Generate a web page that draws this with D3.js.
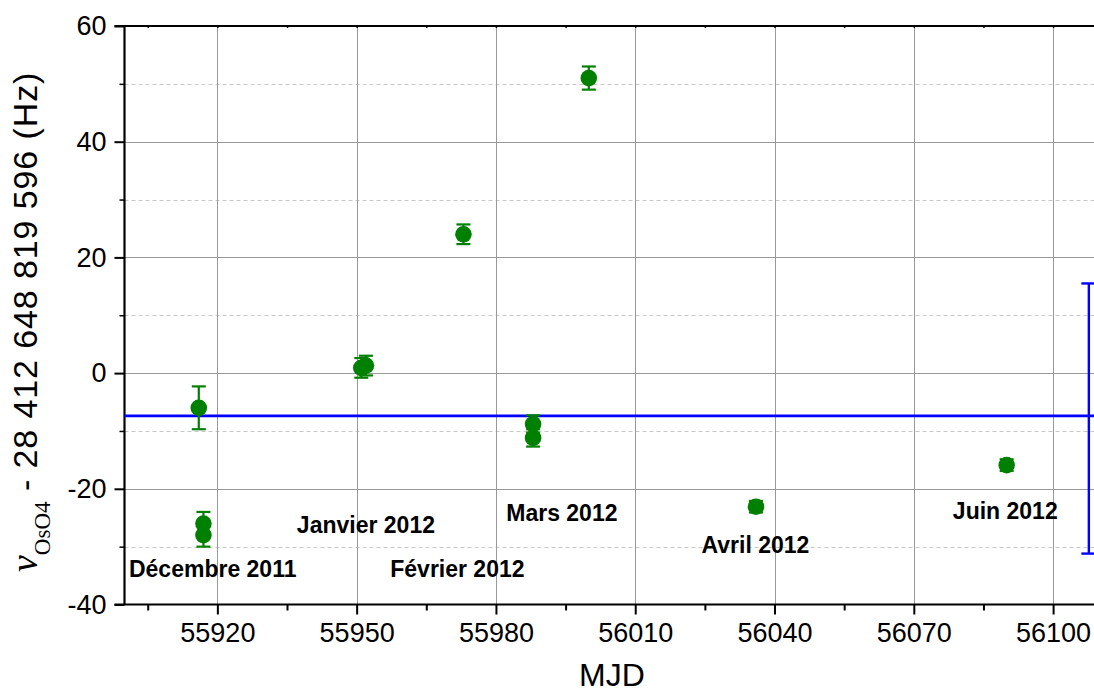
<!DOCTYPE html>
<html>
<head>
<meta charset="utf-8">
<script src="https://cdn.jsdelivr.net/npm/d3@7"></script>
<style>
  html, body { margin: 0; padding: 0; background: #fff; }
  svg { display: block; }
</style>
</head>
<body>
<svg id="chart" width="1094" height="693"></svg>
<script>
// Measurement dates (MJD), frequency offsets (Hz) and 1-sigma uncertainties (Hz)
const mjd    = [55916, 55917, 55917, 55951, 55952, 55973, 55988, 55988, 56000, 56036, 56090];
const offset = [-6.0, -26.0, -28.0, 0.9, 1.3, 24.0, -8.8, -11.2, 51.0, -23.1, -15.9];
const sigma  = [3.7, 2.0, 2.0, 1.7, 1.7, 1.7, 1.5, 1.5, 2.0, 1.0, 1.0];

// Weighted mean and its overall spread
const meanValue = -7.4;
const spreadMJD = 56107.7;
const spreadLow = -31.2;
const spreadHigh = 15.5;

// Month annotations, anchored in data coordinates (centre MJD, baseline Hz)
const monthNames = ["Décembre 2011", "Janvier 2012", "Février 2012", "Mars 2012", "Avril 2012", "Juin 2012"];
const monthMJD   = [55919.0, 55952.0, 55971.7, 55994.2, 56035.9, 56089.7];
const monthHz    = [-35.2, -27.6, -35.2, -25.5, -31.1, -25.3];

// Axis ticks
const xMajorTicks = [55920, 55950, 55980, 56010, 56040, 56070, 56100];
const xMinorTicks = [55905, 55935, 55965, 55995, 56025, 56055, 56085, 56115];
const yMajorTicks = [60, 40, 20, 0, -20, -40];
const yMinorTicks = [50, 30, 10, -10, -30];

(function draw() {
  const svg = d3.select("#chart");
  const left = 124.5, plotTop = 26, plotBottom = 604.5;

  const x = d3.scaleLinear().domain([55900, 56110]).range([left, left + 210 * 4.643]);
  const y = d3.scaleLinear().domain([-40, 60]).range([plotBottom, plotTop]);

  const green = "rgb(0,128,0)";
  const blue = "rgb(0,0,255)";
  const sans = "Liberation Sans, Arial, sans-serif";
  const serif = "Liberation Serif, Times New Roman, serif";

  // Grid: dashed minor horizontals, solid major lines
  const grid = svg.append("g");
  grid.selectAll(".hminor").data(yMinorTicks).join("line")
    .attr("x1", left).attr("x2", 1100)
    .attr("y1", d => Math.round(y(d)) + 0.5).attr("y2", d => Math.round(y(d)) + 0.5)
    .attr("stroke", "#c8c8c8").attr("stroke-width", 1).attr("stroke-dasharray", "4,3");
  grid.selectAll(".hmajor").data(yMajorTicks.filter(d => d > -40 && d < 60)).join("line")
    .attr("x1", left).attr("x2", 1100)
    .attr("y1", d => Math.round(y(d)) + 0.5).attr("y2", d => Math.round(y(d)) + 0.5)
    .attr("stroke", "#999").attr("stroke-width", 1);
  grid.selectAll(".vmajor").data(xMajorTicks).join("line")
    .attr("x1", d => Math.round(x(d)) + 0.5).attr("x2", d => Math.round(x(d)) + 0.5)
    .attr("y1", plotTop).attr("y2", plotBottom)
    .attr("stroke", "#999").attr("stroke-width", 1);

  // Axes
  const xAxis = d3.axisBottom(x).tickValues(xMajorTicks).tickSize(10).tickPadding(8).tickFormat(d => String(d));
  const gx = svg.append("g").attr("transform", `translate(0,${plotBottom})`).call(xAxis);
  gx.select(".domain").remove();
  gx.selectAll(".tick line").attr("stroke", "#000").attr("stroke-width", 2);
  gx.selectAll(".tick text").attr("font-family", sans).attr("font-size", 27).attr("fill", "#000");

  const xMinor = d3.axisBottom(x).tickValues(xMinorTicks).tickSize(6).tickFormat("");
  const gxm = svg.append("g").attr("transform", `translate(0,${plotBottom})`).call(xMinor);
  gxm.select(".domain").remove();
  gxm.selectAll(".tick line").attr("stroke", "#000").attr("stroke-width", 2);

  const yAxis = d3.axisLeft(y).tickValues(yMajorTicks).tickSize(10).tickPadding(8).tickFormat(d => String(d));
  const gy = svg.append("g").attr("transform", `translate(${left},0)`).call(yAxis);
  gy.select(".domain").remove();
  gy.selectAll(".tick line").attr("stroke", "#000").attr("stroke-width", 2);
  gy.selectAll(".tick text").attr("font-family", sans).attr("font-size", 27).attr("fill", "#000");

  const yMinor = d3.axisLeft(y).tickValues(yMinorTicks).tickSize(5).tickFormat("");
  const gym = svg.append("g").attr("transform", `translate(${left},0)`).call(yMinor);
  gym.select(".domain").remove();
  gym.selectAll(".tick line").attr("stroke", "#000").attr("stroke-width", 1.5);

  // Small inward ticks along the top frame
  const xTop = d3.axisBottom(x).tickValues(xMajorTicks.concat(xMinorTicks)).tickSize(2).tickFormat("");
  const gxt = svg.append("g").attr("transform", `translate(0,${plotTop})`).call(xTop);
  gxt.select(".domain").remove();
  gxt.selectAll(".tick line").attr("stroke", "#000").attr("stroke-width", 1.5);

  // Frame lines
  svg.append("line").attr("x1", left - 10).attr("x2", 1100).attr("y1", plotBottom).attr("y2", plotBottom)
    .attr("stroke", "#000").attr("stroke-width", 2.2);
  svg.append("line").attr("x1", left - 10).attr("x2", 1100).attr("y1", plotTop).attr("y2", plotTop)
    .attr("stroke", "#000").attr("stroke-width", 2.2);
  svg.append("line").attr("x1", left).attr("x2", left).attr("y1", plotTop).attr("y2", plotBottom)
    .attr("stroke", "#000").attr("stroke-width", 2.2);

  // Mean line and its spread bar
  svg.append("line").attr("x1", left).attr("x2", 1100)
    .attr("y1", y(meanValue)).attr("y2", y(meanValue))
    .attr("stroke", blue).attr("stroke-width", 2.6);
  const sb = svg.append("g").attr("stroke", blue).attr("stroke-width", 2.4);
  sb.append("line").attr("x1", x(spreadMJD)).attr("x2", x(spreadMJD))
    .attr("y1", y(spreadHigh)).attr("y2", y(spreadLow));
  sb.append("line").attr("x1", x(spreadMJD) - 7.5).attr("x2", x(spreadMJD) + 7.5)
    .attr("y1", y(spreadHigh)).attr("y2", y(spreadHigh));
  sb.append("line").attr("x1", x(spreadMJD) - 7.5).attr("x2", x(spreadMJD) + 7.5)
    .attr("y1", y(spreadLow)).attr("y2", y(spreadLow));

  // Measurements with error bars
  const pts = mjd.map((m, i) => ({ m, v: offset[i], e: sigma[i] }));
  const eb = svg.append("g").attr("stroke", green).attr("stroke-width", 2.2);
  eb.selectAll(".stem").data(pts).join("line")
    .attr("x1", d => x(d.m)).attr("x2", d => x(d.m))
    .attr("y1", d => y(d.v + d.e)).attr("y2", d => y(d.v - d.e));
  eb.selectAll(".capHi").data(pts).join("line")
    .attr("x1", d => x(d.m) - 7).attr("x2", d => x(d.m) + 7)
    .attr("y1", d => y(d.v + d.e)).attr("y2", d => y(d.v + d.e));
  eb.selectAll(".capLo").data(pts).join("line")
    .attr("x1", d => x(d.m) - 7).attr("x2", d => x(d.m) + 7)
    .attr("y1", d => y(d.v - d.e)).attr("y2", d => y(d.v - d.e));
  svg.append("g").selectAll("circle").data(pts).join("circle")
    .attr("cx", d => x(d.m)).attr("cy", d => y(d.v)).attr("r", 8.3)
    .attr("fill", green);

  // Month annotations
  svg.append("g").selectAll("text").data(monthNames).join("text")
    .attr("x", (d, i) => x(monthMJD[i])).attr("y", (d, i) => y(monthHz[i]))
    .attr("text-anchor", "middle")
    .attr("font-family", sans)
    .attr("font-weight", "bold").attr("font-size", 23)
    .attr("fill", "#000")
    .text(d => d);

  // Axis titles
  svg.append("text").attr("x", 612).attr("y", 686).attr("text-anchor", "middle")
    .attr("font-family", sans).attr("font-size", 32)
    .attr("fill", "#000").text("MJD");

  const yl = svg.append("text").attr("transform", "translate(37,572) rotate(-90)")
    .attr("font-family", sans).attr("font-size", 34)
    .attr("fill", "#000");
  yl.append("tspan").attr("font-family", serif)
    .attr("font-style", "italic").attr("font-size", 38).text("ν");
  yl.append("tspan").attr("font-family", serif)
    .attr("font-size", 23).attr("dy", 13).text("OsO4");
  yl.append("tspan").attr("dy", -13).attr("letter-spacing", 0.9)
    .text("\u00a0- 28 412 648 819 596 (Hz)");
})();
</script>
</body>
</html>
